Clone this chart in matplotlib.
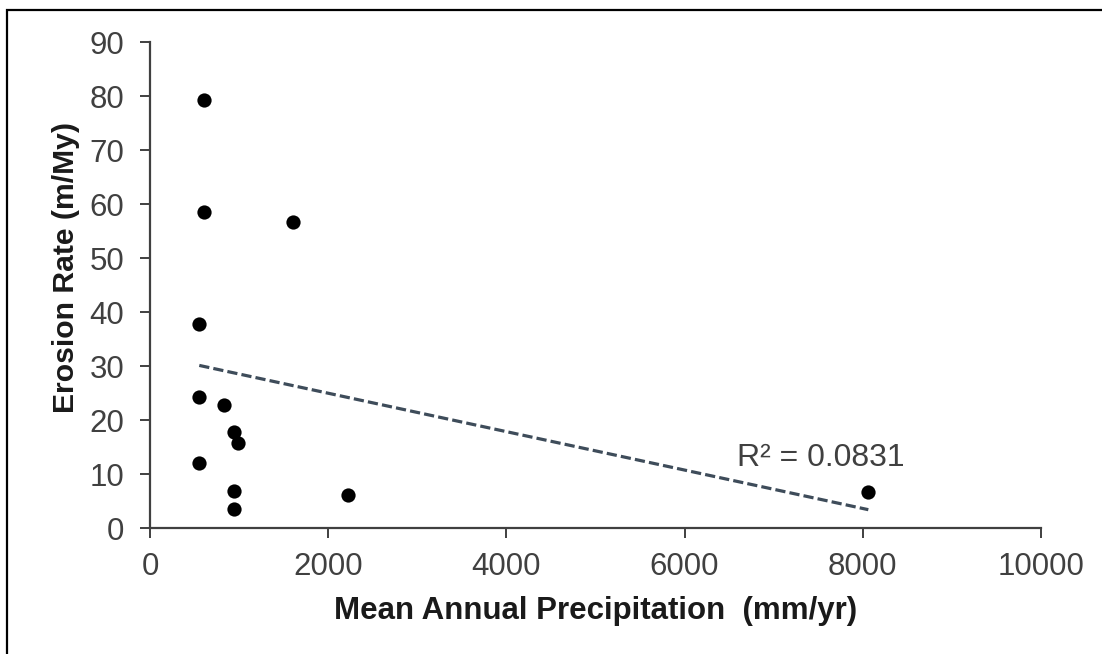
import numpy as np
import matplotlib
matplotlib.use("Agg")
import matplotlib.pyplot as plt
from matplotlib.patches import Rectangle

# Mean annual precipitation (mm/yr) and erosion rate (m/My) per site
precip = [606, 606, 1608, 553, 553, 834, 943, 991, 553, 943, 943, 2219, 8062]
erosion = [79.3, 58.5, 56.6, 37.7, 24.3, 22.8, 17.7, 15.7, 12.1, 6.9, 3.6, 6.1, 6.6]

x_ticks = [0, 2000, 4000, 6000, 8000, 10000]
y_ticks = [0, 10, 20, 30, 40, 50, 60, 70, 80, 90]
r2_label = "R² = 0.0831"

plt.rcParams["font.family"] = ["Liberation Sans", "DejaVu Sans"]

W, H = 1102, 654
fig = plt.figure(figsize=(W / 100, H / 100), dpi=100)
ax = fig.add_axes([150 / W, 1 - 528 / H, (1041 - 150) / W, (528 - 42) / H])

ax.scatter(precip, erosion, s=105, color="black", zorder=3, linewidths=0)

# Linear least-squares trendline over the data range
xs = np.asarray(precip, dtype=float)
ys = np.asarray(erosion, dtype=float)
slope, intercept = np.polyfit(xs, ys, 1)
xl = np.array([xs.min(), xs.max()])
ax.plot(xl, slope * xl + intercept, color="#3e4c5a", lw=2.3,
        linestyle=(0, (3.2, 1.3)), zorder=2)

ax.text(7525, 13.05, r2_label, fontsize=23, color="#404040", ha="center", va="center")

ax.set_xlim(0, 10000)
ax.set_ylim(0, 90)
ax.set_xticks(x_ticks)
ax.set_yticks(y_ticks)
ax.tick_params(axis="both", labelsize=22.5, labelcolor="#404040", color="#404040",
               width=1.4, length=7.5, direction="out")
ax.tick_params(axis="x", pad=9.5)
ax.tick_params(axis="y", pad=11)
for side in ("top", "right"):
    ax.spines[side].set_visible(False)
for side in ("left", "bottom"):
    ax.spines[side].set_color("#404040")
    ax.spines[side].set_linewidth(1.6)

ax.set_xlabel("Mean Annual Precipitation  (mm/yr)", fontsize=22.5, fontweight="bold",
              color="#1a1a1a", labelpad=10.5)
ax.set_ylabel("Erosion Rate (m/My)", fontsize=21.7, fontweight="bold",
              color="#1a1a1a", labelpad=6.5)
ax.yaxis.label.set_y(0.535)

# Outer frame around the chart area
fig.patches.append(Rectangle((7 / W, -0.05), 1.1, 1 - 10 / H + 0.05,
                             transform=fig.transFigure, fill=False,
                             edgecolor="black", lw=1.6))

fig.savefig("out.png", dpi=100)
